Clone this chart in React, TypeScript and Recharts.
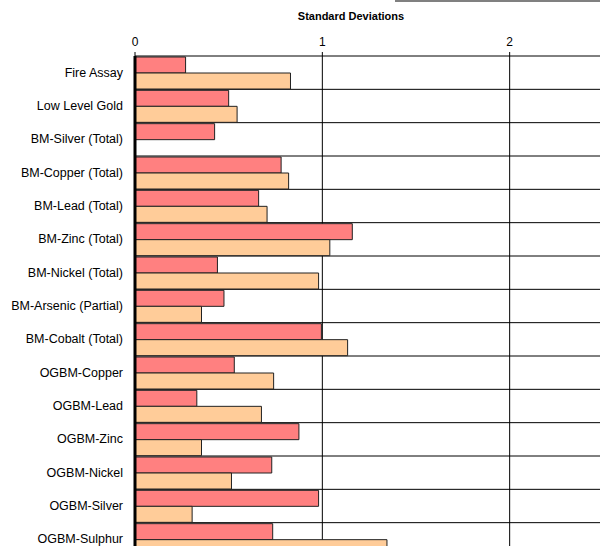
import React from "react";
import { BarChart, Bar, XAxis, YAxis, CartesianGrid } from "recharts";

// categories, top to bottom
const categories = [
  "Fire Assay",
  "Low Level Gold",
  "BM-Silver (Total)",
  "BM-Copper (Total)",
  "BM-Lead (Total)",
  "BM-Zinc (Total)",
  "BM-Nickel (Total)",
  "BM-Arsenic (Partial)",
  "BM-Cobalt (Total)",
  "OGBM-Copper",
  "OGBM-Lead",
  "OGBM-Zinc",
  "OGBM-Nickel",
  "OGBM-Silver",
  "OGBM-Sulphur",
];

const redValues = [
  0.27, 0.5, 0.425, 0.78, 0.66, 1.16, 0.44, 0.475, 0.995, 0.53, 0.33, 0.875,
  0.73, 0.98, 0.735,
];

const orangeValues: (number | null)[] = [
  0.83, 0.545, null, 0.82, 0.705, 1.04, 0.98, 0.355, 1.135, 0.74, 0.675, 0.355,
  0.515, 0.305, 1.345,
];

const xTicks = [0, 1, 2];

const data = categories.map((name, i) => ({
  name,
  red: redValues[i],
  orange: orangeValues[i],
}));

// single-line category label, right aligned
const CategoryTick = (props: any) => {
  const { x, y, payload } = props;
  return (
    <text
      x={x}
      y={y}
      textAnchor="end"
      dominantBaseline="central"
      fontSize={12.5}
      fill="#000"
    >
      {payload.value}
    </text>
  );
};

export default function App() {
  return (
    <div
      style={{
        position: "fixed",
        left: 0,
        top: 0,
        width: 600,
        height: 546,
        overflow: "hidden",
        background: "#fff",
        fontFamily: "'Liberation Sans', Arial, sans-serif",
      }}
    >
      {/* bottom edge of the box cut off at the top */}
      <div
        style={{
          position: "absolute",
          left: 395,
          top: -20,
          width: 220,
          height: 20,
          borderBottom: "2px solid #808080",
        }}
      />
      <div
        style={{
          position: "absolute",
          left: 251,
          top: 10,
          width: 200,
          textAlign: "center",
          fontSize: 11,
          fontWeight: "bold",
          color: "#000",
        }}
      >
        Standard Deviations
      </div>
      <BarChart
        width={697}
        height={560}
        data={data}
        layout="vertical"
        margin={{ top: 26, right: 0, left: 0, bottom: 4 }}
        barCategoryGap={1}
        barGap={0}
      >
        <CartesianGrid
          stroke="#000"
          strokeOpacity={1}
          horizontalCoordinatesGenerator={(props: any) => {
            const top = props?.offset?.top ?? 56;
            const h = props?.offset?.height ?? 500;
            return categories.map(
              (_, i) => top + ((i + 1) * h) / categories.length,
            );
          }}
        />
        <XAxis
          type="number"
          orientation="top"
          domain={[0, 3]}
          ticks={xTicks}
          height={30}
          axisLine={{ stroke: "#000", strokeWidth: 1 }}
          tickLine={{ stroke: "#000" }}
          tickSize={4}
          tickMargin={6}
          tick={{ fill: "#000", fontSize: 12 }}
        />
        <YAxis
          type="category"
          dataKey="name"
          width={135}
          interval={0}
          axisLine={{ stroke: "#000", strokeWidth: 3 }}
          tickLine={false}
          tickSize={6}
          tickMargin={6}
          tick={<CategoryTick />}
        />
        <Bar
          dataKey="red"
          fill="#FF8080"
          stroke="#222"
          strokeWidth={1}
          isAnimationActive={false}
        />
        <Bar
          dataKey="orange"
          fill="#FFCC99"
          stroke="#222"
          strokeWidth={1}
          isAnimationActive={false}
        />
      </BarChart>
    </div>
  );
}
